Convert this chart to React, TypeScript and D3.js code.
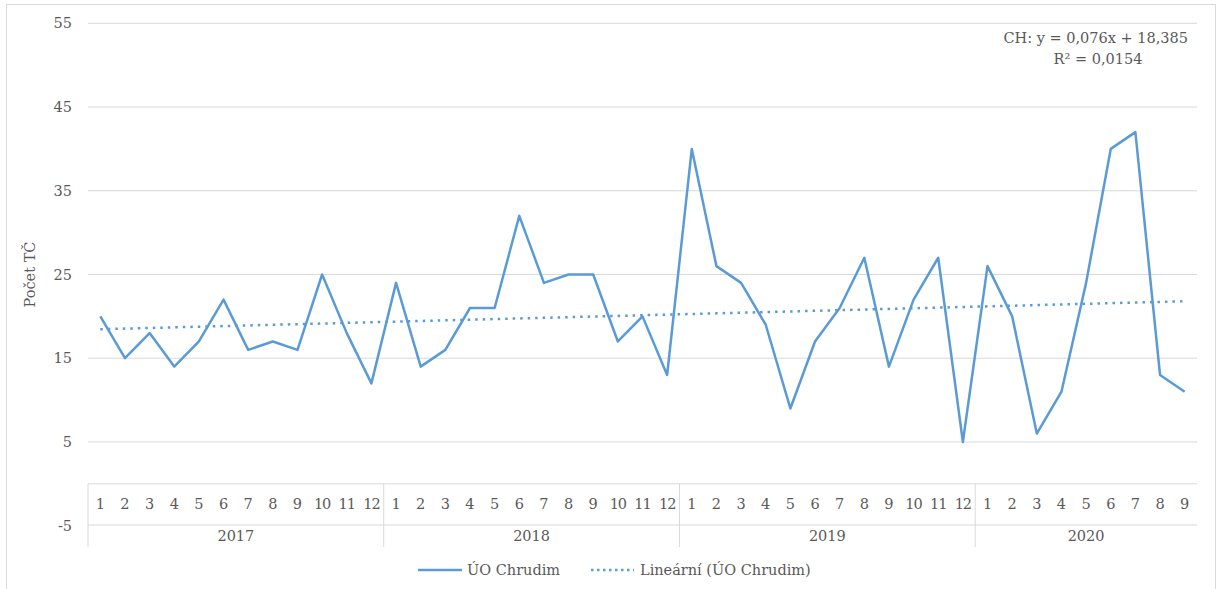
import * as d3 from 'd3';

// hodnoty podle grafu
const years = ['2017', '2018', '2019', '2020'];
const monthsPerYear = [12, 12, 12, 9];
const values2017 = [20, 15, 18, 14, 17, 22, 16, 17, 16, 25, 18, 12];
const values2018 = [24, 14, 16, 21, 21, 32, 24, 25, 25, 17, 20, 13];
const values2019 = [40, 26, 24, 19, 9, 17, 21, 27, 14, 22, 27, 5];
const values2020 = [26, 20, 6, 11, 24, 40, 42, 13, 11];
const yTicks = [-5, 5, 15, 25, 35, 45, 55];
const trendSlope = 0.076;
const trendIntercept = 18.385;
const seriesName = 'ÚO Chrudim';
const trendName = 'Lineární (ÚO Chrudim)';
const equationText = 'CH: y = 0,076x + 18,385';
const r2Text = 'R² = 0,0154';
const yLabel = 'Počet TČ';

const W = 1222;
const H = 589;
const font = '"DejaVu Serif", serif';
const fs = 14.5;
const textColor = '#595959';
const gridColor = '#d9d9d9';
const lineColor = '#5b9bd5';

const App = () => {
  const values = [...values2017, ...values2018, ...values2019, ...values2020];
  const n = values.length;
  const monthLabels: string[] = [];
  monthsPerYear.forEach((m) => {
    for (let i = 1; i <= m; i++) monthLabels.push(String(i));
  });

  const left = 88;
  const right = 1197;
  const x = d3.scaleBand<number>().domain(d3.range(n)).range([left, right]);
  const y = d3.scaleLinear().domain([-5, 55]).range([525.7, 23.3]);
  const cx = (i: number) => (x(i) as number) + x.bandwidth() / 2;

  const line = d3.line<number>()
    .x((d, i) => cx(i))
    .y((d) => y(d));

  const trend = values.map((_, i) => trendIntercept + trendSlope * (i + 1));

  // hranice roků
  const yearStarts: number[] = [];
  let acc = 0;
  monthsPerYear.forEach((m) => { yearStarts.push(acc); acc += m; });

  const axisTop = y(0);
  const axisMid = 525;
  const axisBottom = 547;

  return (
    <div style={{ position: 'absolute', left: 0, top: 0 }}>
      <svg width={W} height={H} style={{ display: 'block', fontFamily: font }}>
        <rect x={0} y={0} width={W} height={H} fill="#fff" />
        <rect x={6.5} y={4.5} width={1209} height={590} fill="none" stroke="#d9d9d9" />

        {/* mřížka */}
        {yTicks.filter((t) => t !== -5).map((t) => (
          <line key={t} x1={left} x2={right} y1={y(t)} y2={y(t)} stroke={gridColor} strokeWidth={1} />
        ))}
        {yTicks.map((t) => (
          <text key={'l' + t} x={72} y={y(t)} dy="0.35em" textAnchor="end" fontSize={fs} fill={textColor}>{t}</text>
        ))}

        <text transform={`translate(35,${(y(55) + y(-5)) / 2}) rotate(-90)`} textAnchor="middle" fontSize={fs} fill={textColor}>{yLabel}</text>

        {/* osa x */}
        <line x1={left} x2={right} y1={axisTop} y2={axisTop} stroke={gridColor} />
        <line x1={left} x2={right} y1={axisMid} y2={axisMid} stroke={gridColor} />
        <line x1={left} x2={left} y1={axisTop} y2={axisBottom} stroke={gridColor} />
        {yearStarts.slice(1).map((s) => (
          <line key={'ys' + s} x1={x(s)} x2={x(s)} y1={axisTop} y2={axisBottom} stroke={gridColor} />
        ))}
        {monthLabels.map((m, i) => (
          <text key={'m' + i} x={cx(i)} y={(axisTop + axisMid) / 2} dy="0.35em" textAnchor="middle" fontSize={fs} fill={textColor} letterSpacing={m.length > 1 ? -1 : 0}>{m}</text>
        ))}
        {years.map((yr, k) => {
          const s = yearStarts[k];
          const e = s + monthsPerYear[k] - 1;
          const mid = (cx(s) + cx(e)) / 2;
          return (
            <text key={yr} x={mid} y={536} dy="0.35em" textAnchor="middle" fontSize={fs} fill={textColor}>{yr}</text>
          );
        })}

        {/* data */}
        <path d={line(values) || ''} fill="none" stroke={lineColor} strokeWidth={2.5} strokeLinejoin="round" />
        <path d={line(trend) || ''} fill="none" stroke={lineColor} strokeWidth={2.5} strokeDasharray="2.5,5" />

        {/* rovnice */}
        <text x={1188} y={38} dy="0.35em" textAnchor="end" fontSize={fs} fill={textColor}>{equationText}</text>
        <text x={1098} y={59} dy="0.35em" textAnchor="middle" fontSize={fs} fill={textColor}>{r2Text}</text>

        {/* legenda */}
        <line x1={418} x2={462} y1={570} y2={570} stroke={lineColor} strokeWidth={2.5} />
        <text x={467} y={570} dy="0.35em" fontSize={fs} fill={textColor}>{seriesName}</text>
        <line x1={591} x2={634} y1={570} y2={570} stroke={lineColor} strokeWidth={2.5} strokeDasharray="2.5,3.5" />
        <text x={640} y={570} dy="0.35em" fontSize={fs} fill={textColor}>{trendName}</text>
      </svg>
    </div>
  );
};

export default App;
